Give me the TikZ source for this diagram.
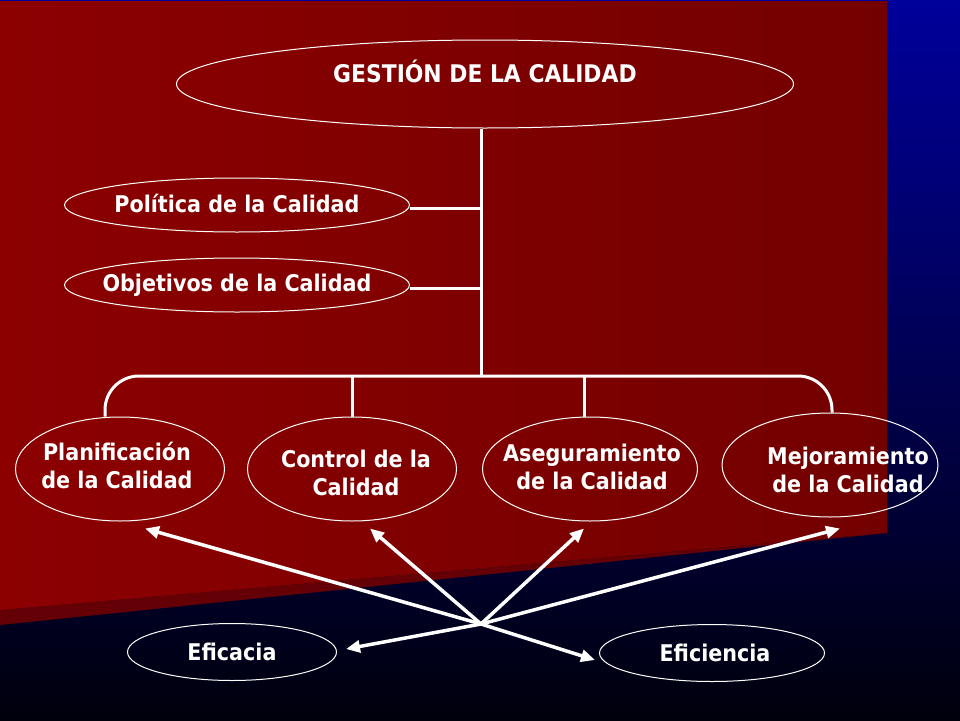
\documentclass[tikz,border=0pt]{standalone}
\usepackage{fontspec}
\setmainfont{DejaVu Sans Condensed}
\usetikzlibrary{shapes.geometric,arrows.meta,positioning}

\definecolor{bgTop}{RGB}{0,0,155}
\definecolor{bgMid}{RGB}{0,0,95}
\definecolor{bgBot}{RGB}{0,0,12}
\definecolor{redL}{RGB}{140,0,0}
\definecolor{redR}{RGB}{115,0,0}
\definecolor{redS}{RGB}{100,0,5}

\tikzset{
	oval/.style={ellipse, draw=white, line width=1pt, inner sep=0pt},
	lbl/.style={text=white, font=\bfseries\fontsize{23}{28}\selectfont, align=center},
	tree/.style={draw=white, line width=3pt},
	pointer/.style={draw=white, line width=3.5pt, -{Triangle[length=14pt,width=12pt]}},
}

\begin{document}
\begin{tikzpicture}[x=1pt,y=-1pt]
	\useasboundingbox (0,0) rectangle (960,720);
	\shade[top color=bgTop, middle color=bgMid, bottom color=bgBot] (0,0) rectangle (960,720);
	\fill[redS] (0,610) -- (887,533) -- (0,625) -- cycle;
	\shade[left color=redL, right color=redR] (0,1) -- (887,1) -- (887,533) -- (0,610) -- cycle;

	\node [oval, minimum width=617pt, minimum height=88pt,
		label={[lbl,font=\bfseries\fontsize{24.3}{28}\selectfont,yshift=13pt]center:GESTIÓN DE LA CALIDAD}] (gestion) at (485,84) {};
	\node [oval, minimum width=345pt, minimum height=54pt,
		label={[lbl,yshift=2pt]center:Política de la Calidad}] (politica) at (237,205) {};
	\node [oval, minimum width=345pt, minimum height=54pt,
		label={[lbl]center:Objetivos de la Calidad}] (objetivos) at (237,285) {};

	\node [oval, minimum width=209pt, minimum height=104pt,
		label={[lbl,xshift=-3pt,yshift=4pt]center:Planificación\\de la Calidad}] (planif) at (120,469) {};
	\node [oval, minimum width=209pt, minimum height=104pt,
		label={[lbl,xshift=4pt,yshift=-4pt]center:Control de la\\Calidad}] (control) at (352,469) {};
	\node [oval, minimum width=215pt, minimum height=104pt,
		label={[lbl,xshift=2pt,yshift=2pt]center:Aseguramiento\\de la Calidad}] (aseg) at (590,469) {};
	\node [oval, minimum width=216pt, minimum height=104pt,
		label={[lbl,xshift=18pt,yshift=-5pt]center:Mejoramiento\\de la Calidad}] (mejora) at (830,465) {};

	\node [oval, minimum width=209pt, minimum height=57pt,
		label={[lbl]center:Eficacia}] (eficacia) at (232,652) {};
	\node [oval, minimum width=225pt, minimum height=57pt,
		label={[lbl,xshift=3pt]center:Eficiencia}] (eficiencia) at (712,653) {};

	\coordinate (split) at (481,376);
	\coordinate (hub) at (481,624);

	\draw[tree] (split |- gestion.south) -- (split);
	\draw[tree] ([yshift=-3pt]politica.east) -- ([yshift=-3pt]politica.east -| split);
	\draw[tree] ([yshift=-3pt]objetivos.east) -- ([yshift=-3pt]objetivos.east -| split);
	\draw[tree, rounded corners=34pt] ([xshift=-15pt]planif.north) -- ([xshift=-15pt]planif.north |- split)
		-- ([xshift=2pt]mejora.north |- split) -- ([xshift=2pt]mejora.north);
	\draw[tree] (control.north) -- (control.north |- split);
	\draw[tree] ([xshift=-6pt]aseg.north) -- ([xshift=-6pt]aseg.north |- split);

	\draw[pointer] (hub) -- ([xshift=25pt,yshift=-7pt]planif.south);
	\draw[pointer] (hub) -- ([xshift=18pt,yshift=-7pt]control.south);
	\draw[pointer] (hub) -- ([xshift=-6pt,yshift=-7pt]aseg.south);
	\draw[pointer] (hub) -- ([xshift=10pt,yshift=-11pt]mejora.south);
	\draw[pointer] (hub) -- ([xshift=9pt,yshift=3pt]eficacia.east);
	\draw[pointer] (hub) -- ([xshift=-4pt,yshift=-7pt]eficiencia.west);
\end{tikzpicture}
\end{document}
